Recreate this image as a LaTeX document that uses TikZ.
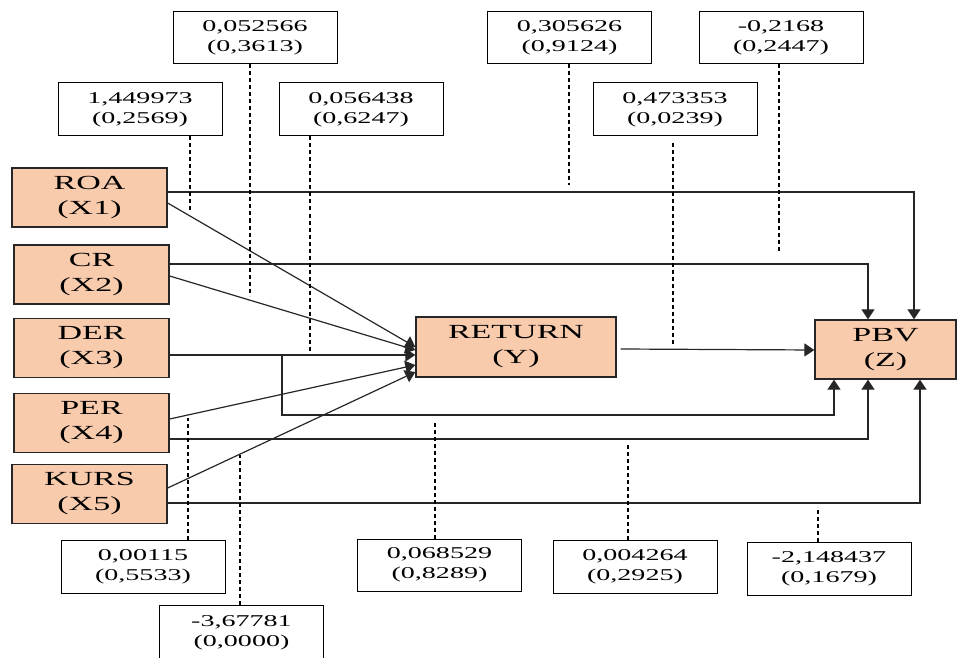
\documentclass[tikz,border=0pt]{standalone}
\usepackage{fontspec}
\setmainfont{Liberation Serif}[FakeStretch=1.7]
\usetikzlibrary{arrows.meta,calc}
\definecolor{peach}{RGB}{248,203,173}
\begin{document}
\begin{tikzpicture}[x=1pt,y=-1pt,
 var/.style={draw=black!85,line width=1.3pt,fill=peach,minimum width=155pt,minimum height=59pt,inner sep=0pt,align=center,font=\fontsize{20}{25}\selectfont},
 lab/.style={draw=black,line width=1pt,fill=white,minimum width=164pt,minimum height=52pt,inner sep=0pt,align=center,font=\fontsize{16.5}{20}\selectfont},
 conn/.style={line width=1.2pt,draw=black!85},
 arr/.style={conn,-{Triangle[length=10pt,width=13pt]}},
 dsh/.style={line width=1.6pt,dash pattern=on 4pt off 3pt}]
\useasboundingbox (0,0) rectangle (959,658);
% variable boxes
\node[var] (roa) at (89.5,197.5) {ROA\\(X1)};
\node[var] (cr) at (91.5,274.5) {CR\\(X2)};
\node[var] (der) at (91.5,348) {DER\\(X3)};
\node[var] (per) at (91.5,423) {PER\\(X4)};
\node[var] (kurs) at (89.5,494) {KURS\\(X5)};
\node[var,minimum width=200pt,minimum height=60pt] (ret) at (516,347) {RETURN\\(Y)};
\node[var,minimum width=141pt] (pbv) at (885.5,349.5) {PBV\\(Z)};
% label boxes
\node[lab,minimum height=53pt] (l1) at (140,109.5) {1,449973\\(0,2569)};
\node[lab] (l2) at (255,38) {0,052566\\(0,3613)};
\node[lab,minimum height=53pt] (l3) at (361,109.5) {0,056438\\(0,6247)};
\node[lab] (l4) at (569.5,38) {0,305626\\(0,9124)};
\node[lab] (l5) at (781,38) {-0,2168\\(0,2447)};
\node[lab,minimum height=53pt] (l6) at (675,109.5) {0,473353\\(0,0239)};
\node[lab,minimum height=53pt] (b1) at (143,566.5) {0,00115\\(0,5533)};
\node[lab,minimum height=55pt] (b2) at (241.5,632.5) {-3,67781\\(0,0000)};
\node[lab] (b3) at (439.5,565) {0,068529\\(0,8289)};
\node[lab,minimum height=53pt] (b4) at (635,566.5) {0,004264\\(0,2925)};
\node[lab,minimum height=53pt] (b5) at (829,568.5) {-2,148437\\(0,1679)};
% connectors to PBV
\draw[arr] ([yshift=5.5pt]roa.east) -| ([xshift=28.5pt]pbv.north);
\draw[arr] ([yshift=10.5pt]cr.east) -| ([xshift=-17.5pt]pbv.north);
\coordinate (derbr) at (282,355);
\draw[arr] (derbr) -- ++(0,60) -| ([xshift=-51.5pt]pbv.south);
\draw[arr] ([yshift=-16pt]per.east) -| ([xshift=-17.5pt]pbv.south);
\draw[arr] ([yshift=-9pt]kurs.east) -| ([xshift=34.5pt]pbv.south);
\draw[arr] ([xshift=4pt,yshift=-2pt]ret.east) -- ([yshift=-0.5pt]pbv.west);
% connectors to RETURN
\draw[arr] ([yshift=-5.5pt]roa.east) -- (ret.west);
\draw[arr] ([yshift=-1.5pt]cr.east) -- ([yshift=-3pt]ret.west);
\draw[arr] ([yshift=-7pt]der.east) -- ([yshift=-8pt]ret.west);
\draw[arr] ([yshift=4pt]per.east) -- ([yshift=-18pt]ret.west);
\draw[arr] ([yshift=6pt]kurs.east) -- ([yshift=-25pt]ret.west);
% dashed leaders
\draw[dsh] ([xshift=50pt]l1.south) -- ++(0,74);
\draw[dsh] ([xshift=-5pt]l2.south) -- ++(0,231);
\draw[dsh] ([xshift=-51pt]l3.south) -- ++(0,214);
\draw[dsh] ([xshift=-0.5pt]l4.south) -- ++(0,121);
\draw[dsh] ([xshift=-2pt]l5.south) -- ++(0,187);
\draw[dsh] ([xshift=-2pt,yshift=-7pt]l6.south) -- ++(0,202);
\draw[dsh] ([xshift=45pt]b1.north) -- ++(0,-122);
\draw[dsh] ([xshift=-1.5pt]b2.north) -- ++(0,-150);
\draw[dsh] ([xshift=-4.5pt]b3.north) -- ++(0,-118);
\draw[dsh] ([xshift=-7pt]b4.north) -- ++(0,-95);
\draw[dsh] ([xshift=-11pt]b5.north) -- ++(0,-35);
\end{tikzpicture}
\end{document}
